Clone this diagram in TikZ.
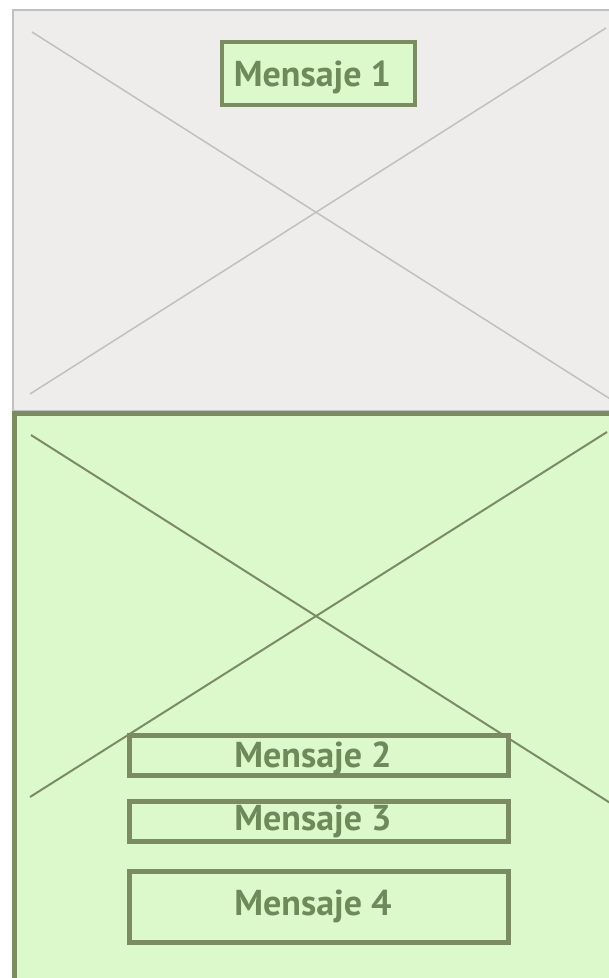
\documentclass[tikz,border=0pt]{standalone}
\usepackage{fontspec}
\setmainfont{PT Sans}
\definecolor{panelgray}{HTML}{EEEDEB}
\definecolor{linegray}{HTML}{C0C0C0}
\definecolor{panelgreen}{HTML}{DCF9CC}
\definecolor{boxgreen}{HTML}{7B8C63}
\definecolor{textgreen}{HTML}{6F8A5A}
\begin{document}
\begin{tikzpicture}[x=1pt, y=-1pt,
  msg/.style={draw=boxgreen, line width=4.5pt, fill=panelgreen, text=textgreen,
    font=\fontsize{36}{36}\selectfont\bfseries, inner sep=0pt,
    text height=25pt, text depth=0pt, minimum width=379pt, minimum height=40pt,
    execute at end node=\kern12pt}]
\useasboundingbox (0,0) rectangle (609,978);
\clip (0,0) rectangle (609,978);
% upper panel
\draw[fill=panelgray, draw=linegray, line width=2.5pt] (13,10) rectangle (640,411);
\draw[linegray, line width=1.5pt] (32,32) -- (615,402);
\draw[linegray, line width=1.5pt] (30,394) -- (606,28);
% lower panel
\draw[fill=panelgreen, draw=boxgreen, line width=5pt] (14.5,413.5) rectangle (640,1000);
\draw[boxgreen, line width=2pt] (31,435) -- (615,806);
\draw[boxgreen, line width=2pt] (30,797) -- (607,432);
% messages
\node[msg, minimum width=193pt, minimum height=63pt] (m1) at (318.5,73.5) {Mensaje 1};
\node[msg, text depth=2pt] (m2) at (319,755.5) {Mensaje 2};
\node[msg, text depth=7pt] (m3) at (319,821.5) {Mensaje 3};
\node[msg, text depth=9pt, minimum height=71pt] (m4) at (319,907) {Mensaje 4};
\end{tikzpicture}
\end{document}
